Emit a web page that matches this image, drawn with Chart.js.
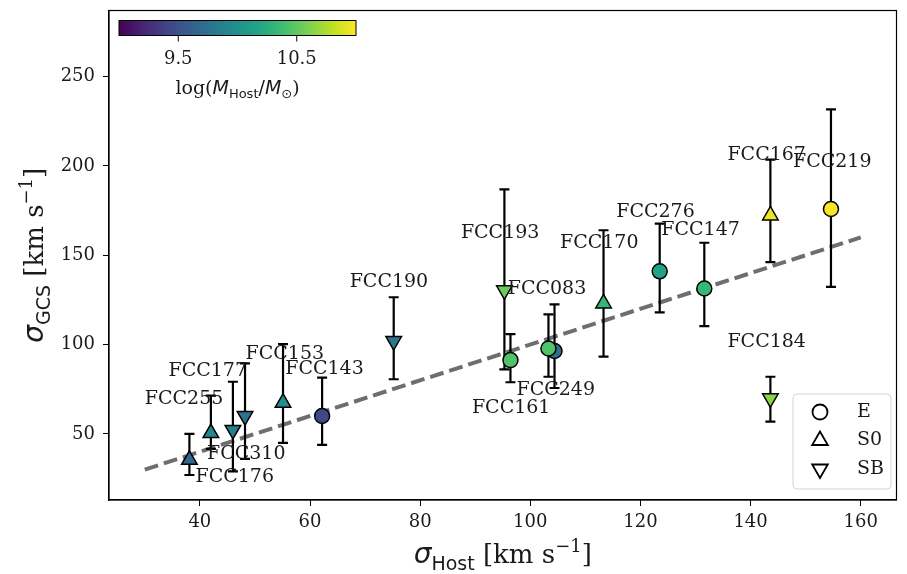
<!DOCTYPE html>
<html>
<head>
<meta charset="utf-8">
<script src="https://cdn.jsdelivr.net/npm/chart.js@4.4.1/dist/chart.umd.min.js"></script>
<style>
  html, body { margin: 0; padding: 0; background: #fff; }
  #wrap { width: 907px; height: 574px; }
</style>
</head>
<body>
<div id="wrap"><canvas id="chart" width="907" height="574"></canvas></div>
<script>
// Galaxies (FCC083 drawn before FCC249 so the green one sits on top)
const names     = ['FCC176', 'FCC255', 'FCC177', 'FCC310', 'FCC153', 'FCC143', 'FCC190', 'FCC193', 'FCC161', 'FCC083', 'FCC249', 'FCC170', 'FCC276', 'FCC147', 'FCC167', 'FCC219', 'FCC184'];
const morph     = ['S0', 'S0', 'SB', 'SB', 'S0', 'E', 'SB', 'SB', 'E', 'E', 'E', 'S0', 'E', 'E', 'S0', 'E', 'SB'];
const sigmaHost = [38.1, 42.0, 46.0, 48.2, 55.1, 62.2, 75.2, 95.3, 96.4, 104.4, 103.3, 113.3, 123.5, 131.6, 143.6, 154.6, 143.6];
const sigmaGCS  = [35.5, 50.5, 52.2, 60.0, 67.5, 60.0, 102.0, 130.4, 91.3, 96.4, 97.8, 123.0, 141.0, 131.4, 172.3, 175.9, 69.9];
const gcsLow    = [27.0, 41.6, 29.0, 36.0, 45.0, 43.9, 80.6, 86.1, 78.9, 75.7, 82.0, 93.2, 118.0, 110.3, 146.2, 132.3, 56.9];
const gcsHigh   = [50.0, 71.4, 79.2, 89.5, 100.2, 81.5, 126.5, 186.9, 105.9, 122.5, 116.9, 164.0, 167.7, 157.0, 203.5, 231.6, 82.0];
const logMass   = [9.68, 9.92, 9.84, 9.74, 9.96, 9.44, 9.78, 10.54, 10.44, 9.72, 10.44, 10.32, 10.16, 10.32, 10.94, 10.98, 10.64];

// where each name is written (data units, left edge / middle of text)
const labelX = [39.2, 30.0, 34.3, 41.3, 48.3, 55.5, 67.2, 87.4, 89.4, 95.9, 97.5, 105.4, 115.6, 123.8, 135.8, 147.7, 135.8];
const labelY = [25.8, 69.7, 84.9, 38.5, 94.9, 86.2, 134.8, 162.3, 64.5, 131.3, 74.7, 156.7, 174.4, 164.2, 206.0, 201.9, 101.6];

// one-to-one line
const lineX = [30, 160];
const lineY = [30, 160];

const xTicks = [40, 60, 80, 100, 120, 140, 160];
const yTicks = [50, 100, 150, 200, 250];
const cbarTicks = [9.5, 10.5];
const cbarRange = [9.0, 11.0];
const legendTypes = ['E', 'S0', 'SB'];

const viridis = ['#440154', '#482475', '#414487', '#355f8d', '#2a788e', '#21918c',
                 '#22a884', '#44bf70', '#7ad151', '#bddf26', '#fde725'];

function hexToRgb(h) {
  return [parseInt(h.slice(1, 3), 16), parseInt(h.slice(3, 5), 16), parseInt(h.slice(5, 7), 16)];
}

function viridisColor(v) {
  let t = (v - cbarRange[0]) / (cbarRange[1] - cbarRange[0]);
  t = Math.max(0, Math.min(1, t));
  const pos = t * (viridis.length - 1);
  const i = Math.min(Math.floor(pos), viridis.length - 2);
  const f = pos - i;
  const a = hexToRgb(viridis[i]), b = hexToRgb(viridis[i + 1]);
  const c = a.map((ch, k) => Math.round(ch + (b[k] - ch) * f));
  return `rgb(${c[0]},${c[1]},${c[2]})`;
}

const styleFor = { E: 'circle', S0: 'triangle', SB: 'triangle' };
const rotFor = { E: 0, S0: 0, SB: 180 };
const radiusFor = { E: 7.5, S0: 9, SB: 9 };

const serif = '"DejaVu Serif"';
const sans = '"DejaVu Sans"';
const textColor = '#1a1a1a';

// draw a row of text pieces (for the math-style labels)
function drawParts(ctx, parts, cx, cy, angle) {
  ctx.save();
  ctx.translate(cx, cy);
  ctx.rotate(angle);
  ctx.fillStyle = textColor;
  ctx.textAlign = 'left';
  ctx.textBaseline = 'alphabetic';
  let total = 0;
  parts.forEach(p => { ctx.font = p.font; p.w = ctx.measureText(p.text).width; total += p.w; });
  let xPos = -total / 2;
  parts.forEach(p => {
    ctx.font = p.font;
    ctx.fillText(p.text, xPos, p.dy);
    xPos += p.w;
  });
  ctx.restore();
}

const overlay = {
  id: 'overlay',
  beforeDatasetsDraw(chart) {
    const { ctx, scales: { x, y } } = chart;
    ctx.save();
    // dashed line
    ctx.strokeStyle = '#6e6e6e';
    ctx.lineWidth = 4;
    ctx.setLineDash([14, 6]);
    ctx.beginPath();
    ctx.moveTo(x.getPixelForValue(lineX[0]), y.getPixelForValue(lineY[0]));
    ctx.lineTo(x.getPixelForValue(lineX[1]), y.getPixelForValue(lineY[1]));
    ctx.stroke();
    ctx.setLineDash([]);

    // error bars
    ctx.strokeStyle = '#000';
    ctx.lineWidth = 2.2;
    sigmaHost.forEach((v, i) => {
      const px = x.getPixelForValue(v);
      const top = y.getPixelForValue(gcsHigh[i]);
      const bot = y.getPixelForValue(gcsLow[i]);
      ctx.beginPath();
      ctx.moveTo(px, top); ctx.lineTo(px, bot);
      ctx.moveTo(px - 5, top); ctx.lineTo(px + 5, top);
      ctx.moveTo(px - 5, bot); ctx.lineTo(px + 5, bot);
      ctx.stroke();
    });
    ctx.restore();
  },
  afterDatasetsDraw(chart) {
    const { ctx, chartArea: area, scales: { x, y } } = chart;
    ctx.save();

    // galaxy names
    ctx.fillStyle = textColor;
    ctx.font = `19px ${serif}`;
    ctx.textAlign = 'left';
    ctx.textBaseline = 'middle';
    names.forEach((n, i) => {
      ctx.fillText(n, x.getPixelForValue(labelX[i]), y.getPixelForValue(labelY[i]));
    });

    // frame
    ctx.strokeStyle = '#000';
    ctx.lineWidth = 1.2;
    ctx.strokeRect(area.left, area.top, area.right - area.left, area.bottom - area.top);

    // colorbar
    const cbL = area.left + 10, cbT = area.top + 10, cbW = 237, cbH = 15;
    const grad = ctx.createLinearGradient(cbL, 0, cbL + cbW, 0);
    viridis.forEach((c, i) => grad.addColorStop(i / (viridis.length - 1), c));
    ctx.fillStyle = grad;
    ctx.fillRect(cbL, cbT, cbW, cbH);
    ctx.strokeStyle = '#000';
    ctx.lineWidth = 1;
    ctx.strokeRect(cbL, cbT, cbW, cbH);
    ctx.fillStyle = textColor;
    ctx.font = `18px ${serif}`;
    ctx.textAlign = 'center';
    ctx.textBaseline = 'middle';
    cbarTicks.forEach(t => {
      const px = cbL + (t - cbarRange[0]) / (cbarRange[1] - cbarRange[0]) * cbW;
      ctx.beginPath();
      ctx.moveTo(px, cbT + cbH); ctx.lineTo(px, cbT + cbH + 6);
      ctx.stroke();
      ctx.fillText(String(t), px, cbT + cbH + 24);
    });
    drawParts(ctx, [
      { text: 'log(', font: `19px ${serif}`, dy: 0 },
      { text: 'M', font: `italic 19px ${sans}`, dy: 0 },
      { text: 'Host', font: `13px ${sans}`, dy: 4 },
      { text: '/', font: `19px ${sans}`, dy: 0 },
      { text: 'M', font: `italic 19px ${sans}`, dy: 0 },
      { text: '⊙', font: `13px ${sans}`, dy: 4 },
      { text: ')', font: `19px ${serif}`, dy: 0 }
    ], cbL + cbW / 2, cbT + cbH + 58, 0);

    // legend
    const lgL = 793, lgT = 394, lgW = 98, lgH = 95;
    ctx.fillStyle = 'rgba(255,255,255,0.8)';
    ctx.strokeStyle = '#d4d4d4';
    ctx.lineWidth = 1;
    ctx.beginPath();
    ctx.roundRect(lgL, lgT, lgW, lgH, 4);
    ctx.fill();
    ctx.stroke();
    legendTypes.forEach((t, i) => {
      const cy = lgT + 18 + i * 28.5;
      ctx.strokeStyle = '#000';
      ctx.fillStyle = '#fff';
      ctx.lineWidth = 1.8;
      ctx.beginPath();
      if (t === 'E') {
        ctx.arc(lgL + 27, cy, 7.5, 0, Math.PI * 2);
      } else {
        const s = t === 'S0' ? -1 : 1;
        ctx.moveTo(lgL + 27, cy + s * 9);
        ctx.lineTo(lgL + 27 - 7.8, cy - s * 4.5);
        ctx.lineTo(lgL + 27 + 7.8, cy - s * 4.5);
        ctx.closePath();
      }
      ctx.fill();
      ctx.stroke();
      ctx.fillStyle = textColor;
      ctx.font = `19px ${serif}`;
      ctx.textAlign = 'left';
      ctx.textBaseline = 'middle';
      ctx.fillText(t, lgL + 64, cy);
    });
    ctx.restore();
  },
  afterDraw(chart) {
    const { ctx, chartArea: area } = chart;
    const mid = (area.left + area.right) / 2;
    drawParts(ctx, [
      { text: 'σ', font: `italic 28px ${sans}`, dy: 0 },
      { text: 'Host', font: `19px ${sans}`, dy: 7 },
      { text: ' [km s', font: `26px ${serif}`, dy: 0 },
      { text: '−1', font: `18px ${serif}`, dy: -11 },
      { text: ']', font: `26px ${serif}`, dy: 0 }
    ], mid, 563, 0);
    drawParts(ctx, [
      { text: 'σ', font: `italic 28px ${sans}`, dy: 0 },
      { text: 'GCS', font: `19px ${sans}`, dy: 7 },
      { text: ' [km s', font: `26px ${serif}`, dy: 0 },
      { text: '−1', font: `18px ${serif}`, dy: -11 },
      { text: ']', font: `26px ${serif}`, dy: 0 }
    ], 43, (area.top + area.bottom) / 2, -Math.PI / 2);
  }
};

const points = sigmaHost.map((v, i) => ({ x: v, y: sigmaGCS[i] }));

new Chart(document.getElementById('chart'), {
  type: 'scatter',
  data: {
    labels: names,
    datasets: [{
      data: points,
      pointStyle: morph.map(m => styleFor[m]),
      pointRotation: morph.map(m => rotFor[m]),
      pointRadius: morph.map(m => radiusFor[m]),
      backgroundColor: logMass.map(viridisColor),
      borderColor: '#000',
      borderWidth: 1.5
    }]
  },
  options: {
    responsive: false,
    animation: false,
    events: [],
    layout: { padding: { left: 0, top: 8, right: 9, bottom: 0 } },
    plugins: { legend: { display: false }, tooltip: { enabled: false } },
    scales: {
      x: {
        type: 'linear',
        min: 23.5,
        max: 166.5,
        afterBuildTicks: s => { s.ticks = xTicks.map(v => ({ value: v })); },
        afterFit: s => { s.height = 74; s.paddingLeft = 0; s.paddingRight = 0; },
        grid: { drawOnChartArea: false, drawTicks: true, tickLength: 6, color: '#000', lineWidth: 1 },
        border: { display: true, color: '#000', width: 1.2 },
        ticks: { padding: 6, color: textColor, font: { family: 'DejaVu Serif', size: 18 } }
      },
      y: {
        type: 'linear',
        min: 13,
        max: 287,
        afterBuildTicks: s => { s.ticks = yTicks.map(v => ({ value: v })); },
        afterFit: s => { s.width = 109; s.paddingTop = 0; s.paddingBottom = 0; },
        grid: { drawOnChartArea: false, drawTicks: true, tickLength: 6, color: '#000', lineWidth: 1 },
        border: { display: true, color: '#000', width: 1.2 },
        ticks: { padding: 8, color: textColor, font: { family: 'DejaVu Serif', size: 18 } }
      }
    }
  },
  plugins: [overlay]
});
</script>
</body>
</html>
